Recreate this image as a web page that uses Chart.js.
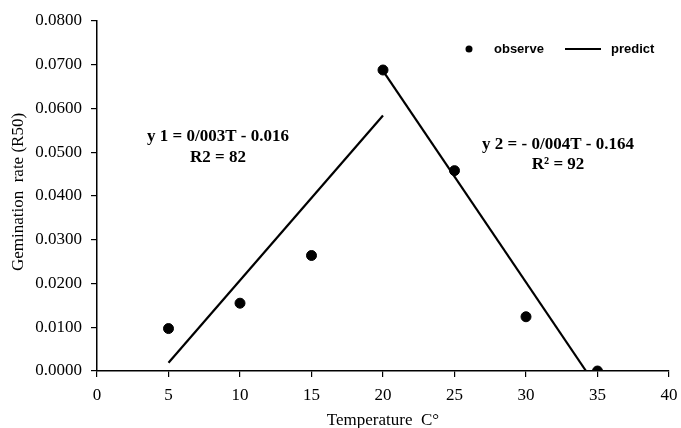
<!DOCTYPE html>
<html>
<head>
<meta charset="utf-8">
<script src="https://cdn.jsdelivr.net/npm/chart.js@4.4.1/dist/chart.umd.min.js"></script>
<style>
  html, body { margin: 0; padding: 0; background: #fff; }
  #wrap { width: 681px; height: 428px; }
</style>
</head>
<body>
<div id="wrap"><canvas id="chart" width="681" height="428"></canvas></div>
<script>
"use strict";

// observed germination rates
const temps = [5, 10, 15, 20, 25, 30, 35];
const observed = [0.0097, 0.0155, 0.0264, 0.0688, 0.0458, 0.0124, 0.0000];

// fitted lines (end points)
const predict1X = [5, 20];
const predict1Y = [0.0019, 0.0584];
const predict2X = [20, 34.2];
const predict2Y = [0.0686, 0.0000];

const xTicks = [0, 5, 10, 15, 20, 25, 30, 35, 40];
const yTicks = [0, 0.01, 0.02, 0.03, 0.04, 0.05, 0.06, 0.07, 0.08];

const serif = "'Liberation Serif', 'Times New Roman', serif";
const sans = "'Liberation Sans', Arial, sans-serif";

function toPoints(xs, ys) {
    let pts = [];
    for (let i = 0; i < xs.length; i++) {
        pts.push({x: xs[i], y: ys[i]});
    }
    return pts;
}

// equations, legend and axis titles drawn on top
const extras = {
    id: 'extras',
    afterDraw(chart) {
        const ctx = chart.ctx;
        const area = chart.chartArea;
        const xs = chart.scales.x;
        const ys = chart.scales.y;
        ctx.save();
        ctx.fillStyle = '#000';
        ctx.textAlign = 'center';
        ctx.textBaseline = 'middle';

        ctx.font = "bold 17px " + serif;
        ctx.fillText("y 1 = 0/003T - 0.016", xs.getPixelForValue(8.46), ys.getPixelForValue(0.0535));
        ctx.fillText("R2 = 82", xs.getPixelForValue(8.46), ys.getPixelForValue(0.0487));
        ctx.fillText("y 2 = - 0/004T - 0.164", xs.getPixelForValue(32.24), ys.getPixelForValue(0.0517));
        ctx.fillText("R\u00B2 = 92", xs.getPixelForValue(32.24), ys.getPixelForValue(0.0471));

        // legend
        const ly = area.top + 28;
        ctx.font = "bold 13px " + sans;
        ctx.textAlign = 'left';
        ctx.beginPath();
        ctx.arc(469, ly, 3.5, 0, Math.PI * 2);
        ctx.fill();
        ctx.fillText("observe", 494, ly);
        ctx.lineWidth = 2;
        ctx.beginPath();
        ctx.moveTo(565, ly);
        ctx.lineTo(601, ly);
        ctx.stroke();
        ctx.fillText("predict", 611, ly);

        // axis titles
        ctx.font = "17px " + serif;
        ctx.textAlign = 'center';
        ctx.fillText("Temperature  C\u00B0", (area.left + area.right) / 2, 421);
        ctx.translate(19, 192);
        ctx.rotate(-Math.PI / 2);
        ctx.fillText("Gemination  rate (R50)", 0, 0);
        ctx.restore();
    }
};

let ctx1 = document.getElementById('chart').getContext('2d');
let myChart = new Chart(ctx1, {
    type: 'scatter',
    data: {
        datasets: [{
            label: 'observe',
            data: toPoints(temps, observed),
            backgroundColor: '#000',
            borderColor: '#000',
            pointRadius: 5,
            pointHoverRadius: 5,
            showLine: false
        }, {
            label: 'predict',
            data: toPoints(predict1X, predict1Y),
            borderColor: '#000',
            borderWidth: 2.2,
            pointRadius: 0,
            showLine: true
        }, {
            label: 'predict',
            data: toPoints(predict2X, predict2Y),
            borderColor: '#000',
            borderWidth: 2.2,
            pointRadius: 0,
            showLine: true
        }]
    },
    options: {
        responsive: false,
        animation: false,
        layout: {
            padding: {left: 0, right: 12, top: 21, bottom: 0}
        },
        plugins: {
            legend: {display: false},
            tooltip: {enabled: false}
        },
        scales: {
            x: {
                type: 'linear',
                min: 0,
                max: 40,
                afterFit: scale => { scale.height = 57; scale.paddingRight = 0; },
                afterBuildTicks: scale => { scale.ticks = xTicks.map(v => ({value: v})); },
                grid: {drawOnChartArea: false, drawTicks: true, tickLength: 6, color: '#000', lineWidth: 1.2},
                border: {display: true, color: '#000', width: 1.5},
                ticks: {
                    color: '#000',
                    font: {family: serif, size: 17},
                    padding: 8,
                    maxRotation: 0
                }
            },
            y: {
                type: 'linear',
                min: 0,
                max: 0.08,
                afterFit: scale => { scale.width = 97; },
                afterBuildTicks: scale => { scale.ticks = yTicks.map(v => ({value: v})); },
                grid: {drawOnChartArea: false, drawTicks: true, tickLength: 6, color: '#000', lineWidth: 1.2},
                border: {display: true, color: '#000', width: 1.5},
                ticks: {
                    color: '#000',
                    font: {family: serif, size: 17},
                    padding: 9,
                    callback: v => v.toFixed(4)
                }
            }
        }
    },
    plugins: [extras]
});
</script>
</body>
</html>
